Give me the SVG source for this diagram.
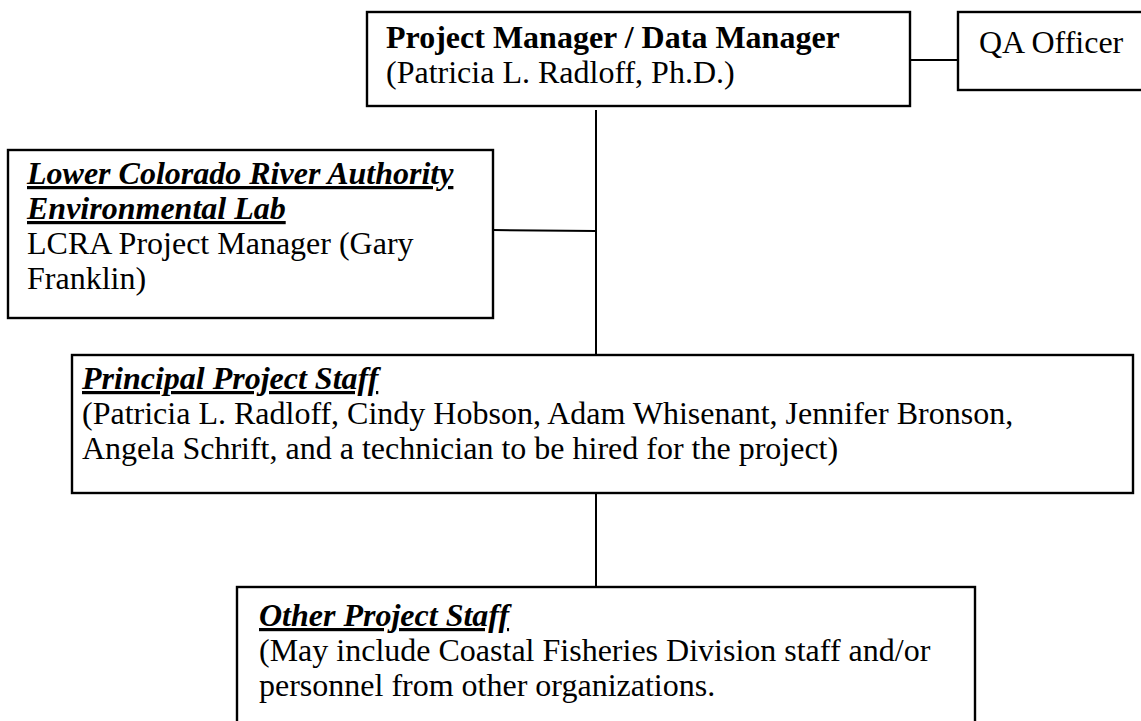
<svg xmlns="http://www.w3.org/2000/svg" width="1141" height="721" viewBox="0 0 1141 721">
<style>
.box{fill:#fff;stroke:#000;stroke-width:2.4}
.ln{stroke:#000;stroke-width:2;fill:none}
text{font-family:"Liberation Serif","Times New Roman",serif;font-size:32px;fill:#000}
.b{font-weight:bold}
.bi{font-weight:bold;font-style:italic;text-decoration:underline}
</style>
<rect width="1141" height="721" fill="#fff"/>
<g id="connectors">
<line class="ln" x1="910" y1="60" x2="958" y2="60"/>
<line class="ln" x1="596" y1="110" x2="596" y2="355"/>
<line class="ln" x1="493" y1="230" x2="596" y2="231"/>
<line class="ln" x1="596" y1="493" x2="596" y2="587"/>
</g>
<g id="pm">
<rect class="box" x="367" y="12" width="543" height="94"/>
<text x="386" y="48" class="b">Project Manager / Data Manager</text>
<text x="386" y="83">(Patricia L. Radloff, Ph.D.)</text>
</g>
<g id="qa">
<rect class="box" x="958" y="12" width="190" height="78"/>
<text x="979" y="53">QA Officer</text>
</g>
<g id="lcra">
<rect class="box" x="8" y="150" width="485" height="168"/>
<text x="27" y="184" class="bi">Lower Colorado River Authority</text>
<text x="27" y="219" class="bi">Environmental Lab</text>
<text x="27" y="254">LCRA Project Manager (Gary</text>
<text x="27" y="289">Franklin)</text>
</g>
<g id="principal">
<rect class="box" x="72" y="355" width="1061" height="138"/>
<text x="82" y="389" class="bi">Principal Project Staff</text>
<text x="82" y="424">(Patricia L. Radloff, Cindy Hobson, Adam Whisenant, Jennifer Bronson,</text>
<text x="82" y="459">Angela Schrift, and a technician to be hired for the project)</text>
</g>
<g id="other">
<rect class="box" x="237" y="587" width="738" height="150"/>
<text x="259" y="626" class="bi">Other Project Staff</text>
<text x="259" y="661">(May include Coastal Fisheries Division staff and/or</text>
<text x="259" y="696">personnel from other organizations.</text>
</g>
</svg>
